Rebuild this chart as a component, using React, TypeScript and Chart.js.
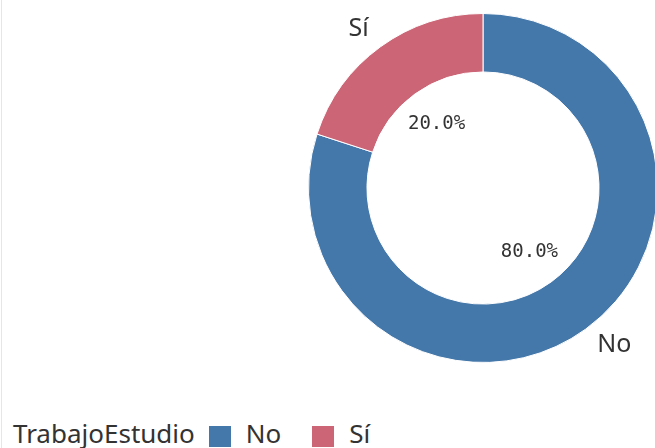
import React, { useEffect, useRef } from "react";
import { Chart, registerables } from "chart.js";

Chart.register(...registerables);

const categories = ["No", "Sí"];
const values = [80, 20];
const colors = ["#4477AA", "#CC6677"];
const legendTitle = "TrabajoEstudio";

const TEXT_COLOR = "#333333";
const LABEL_FONT = '25px "Noto Sans"';
const PCT_FONT = '19px "DejaVu Sans Mono"';

const sliceLabels = {
  id: "sliceLabels",
  afterDatasetsDraw(chart: any) {
    const ctx = chart.ctx as CanvasRenderingContext2D;
    const meta = chart.getDatasetMeta(0);
    const data = chart.data.datasets[0].data as number[];
    const total = data.reduce((a, b) => a + b, 0);
    meta.data.forEach((arc: any, i: number) => {
      const p = arc.getProps(
        ["x", "y", "startAngle", "endAngle", "outerRadius", "innerRadius"],
        true
      );
      const mid = (p.startAngle + p.endAngle) / 2;
      const c = Math.cos(mid);
      const s = Math.sin(mid);
      ctx.save();
      ctx.fillStyle = TEXT_COLOR;
      // category label outside the ring
      ctx.font = LABEL_FONT;
      const label = categories[i];
      const capM = ctx.measureText("N");
      const cap = capM.actualBoundingBoxAscent;
      const ax = p.x + c * (p.outerRadius + 20);
      const ay = p.y + s * (p.outerRadius + 13.5);
      ctx.textAlign = c < 0 ? "right" : "left";
      ctx.textBaseline = "alphabetic";
      const by = s < 0 ? ay : ay + cap - 6;
      ctx.fillText(label, ax, by);
      // percentage inside the hole
      ctx.font = PCT_FONT;
      ctx.textAlign = "center";
      ctx.textBaseline = "middle";
      const r = 79;
      const pct = ((data[i] / total) * 100).toFixed(1) + "%";
      ctx.fillText(pct, p.x + c * r, p.y + s * r);
      ctx.restore();
    });
  },
};

function DoughnutChart() {
  const ref = useRef<HTMLCanvasElement | null>(null);
  useEffect(() => {
    if (!ref.current) return;
    const chart = new Chart(ref.current, {
      type: "doughnut",
      data: {
        labels: categories,
        datasets: [
          {
            data: values,
            backgroundColor: colors,
            borderColor: "#ffffff",
            borderWidth: 1,
          },
        ],
      },
      options: {
        responsive: false,
        animation: false,
        cutout: "66.5%",
        layout: { padding: 25 },
        plugins: {
          legend: { display: false },
          tooltip: { enabled: false },
        },
      },
      plugins: [sliceLabels],
    });
    return () => chart.destroy();
  }, []);
  return (
    <canvas
      ref={ref}
      width={400}
      height={400}
      style={{ position: "absolute", left: 283, top: -12, width: 400, height: 400 }}
    />
  );
}

export default function App() {
  return (
    <div
      style={{
        position: "fixed",
        left: 0,
        top: 0,
        width: 655,
        height: 448,
        overflow: "hidden",
        background: "#ffffff",
      }}
    >
      <div
        style={{
          position: "absolute",
          left: 1,
          top: 0,
          width: 1,
          height: 448,
          background: "#e6e6e6",
        }}
      />
      <DoughnutChart />
      <div
        style={{
          position: "absolute",
          left: 13,
          top: 415,
          height: 36,
          display: "flex",
          alignItems: "center",
          fontFamily: '"Noto Sans", sans-serif',
          fontSize: 26,
          color: TEXT_COLOR,
          whiteSpace: "nowrap",
        }}
      >
        <span style={{ marginRight: 14 }}>{legendTitle}</span>
        {categories.map((cat, i) => (
          <span key={cat} style={{ display: "flex", alignItems: "center", marginRight: 31 }}>
            <span
              style={{
                display: "inline-block",
                position: "relative",
                top: 3,
                width: 22,
                height: 21,
                background: colors[i],
                marginRight: 15,
              }}
            />
            <span>{cat}</span>
          </span>
        ))}
      </div>
    </div>
  );
}
